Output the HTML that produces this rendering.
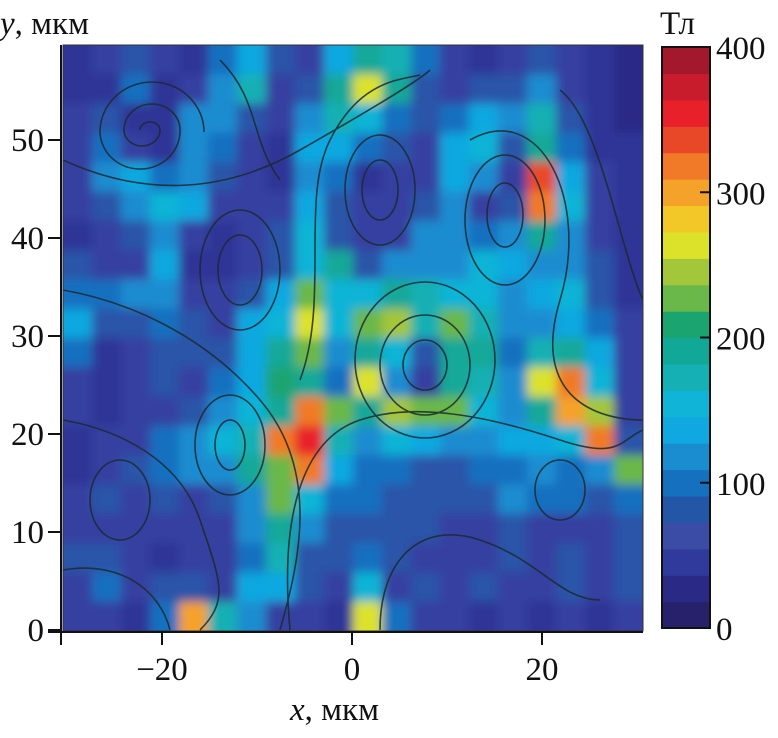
<!DOCTYPE html>
<html><head><meta charset="utf-8"><style>
body{margin:0;background:#fff;}
svg text{font-family:"Liberation Serif",serif;fill:#111;}
</style></head><body>
<svg id="c" width="778" height="733" viewBox="0 0 778 733" xmlns="http://www.w3.org/2000/svg">
<defs>
<filter id="bl" x="-0.1" y="-0.1" width="1.2" height="1.2"><feGaussianBlur stdDeviation="5"/></filter>
<clipPath id="pc"><rect x="63" y="45" width="580" height="586"/></clipPath>
</defs>
<g clip-path="url(#pc)">
<rect x="40" y="20" width="630" height="640" fill="#2f3596"/>
<g id="heat" filter="url(#bl)"></g></g>
<g id="stream" fill="none" stroke="#1c2a30" stroke-width="1.6" opacity="0.85" clip-path="url(#pc)">
<path d="M150 130 m-10 0 a10 8 0 1 1 20 0 a18 16 0 1 1 -36 0 a28 26 0 1 1 56 0 a40 38 0 1 1 -80 2 a52 50 0 1 1 104 0"/>
<ellipse cx="240" cy="270" rx="22" ry="35"/><ellipse cx="240" cy="270" rx="40" ry="60"/>
<ellipse cx="380" cy="190" rx="18" ry="30"/><ellipse cx="380" cy="190" rx="35" ry="55"/>
<ellipse cx="425" cy="365" rx="22" ry="25"/><ellipse cx="425" cy="365" rx="45" ry="50"/><ellipse cx="425" cy="360" rx="70" ry="78"/>
<ellipse cx="505" cy="215" rx="18" ry="32"/><ellipse cx="505" cy="220" rx="40" ry="65"/>
<ellipse cx="230" cy="445" rx="15" ry="25"/><ellipse cx="230" cy="445" rx="35" ry="50"/>
<ellipse cx="120" cy="500" rx="30" ry="40"/><ellipse cx="560" cy="490" rx="25" ry="30"/>
<path d="M63 160 C150 200 230 190 300 150 S420 80 430 70"/>
<path d="M63 290 C120 300 200 330 260 400 S300 560 280 630"/>
<path d="M290 630 C280 520 300 440 360 420 S500 420 560 440 S620 440 643 430"/>
<path d="M300 380 C330 300 300 200 330 140 S400 80 420 75"/>
<path d="M470 140 C540 100 590 200 560 300 S600 420 643 420"/>
<path d="M63 420 C120 430 180 460 200 520 S230 600 200 630"/>
<path d="M380 630 C380 560 420 520 480 540 S560 600 600 600"/>
<path d="M63 570 C120 560 160 590 170 630"/>
<path d="M560 90 C600 120 620 250 643 300"/>
<path d="M220 60 C260 100 250 140 280 180"/>
</g>
<rect x="63" y="45" width="580" height="586" fill="none" stroke="#333" stroke-width="1"/>
<g id="axes"></g>
<g id="cbar"></g>
<text x="0" y="34" font-size="33"><tspan font-style="italic">y</tspan>, мкм</text>
<text x="290" y="720" font-size="33"><tspan font-style="italic">x</tspan>, мкм</text>
<text x="660" y="34" font-size="33">Тл</text>
</svg>
<script>
const xTicks=[-20,0,20];
const yTicks=[0,10,20,30,40,50];
const cTicks=[0,100,200,300,400];
const levelColors=["#26216a","#2a2a86","#303a9c","#3a4ca6","#2456a8","#1670c0","#1a8cd0","#10a8e0","#0fb4d6","#14b0b4","#12a898","#1aa470","#6ab84a","#a4c63a","#dce22a","#f2c828","#f4a22a","#f07a28","#e84828","#e8202a","#c81c2c","#a4182e"];
const grid=[
[60,80,100,80,70,120,150,110,90,150,200,180,120,80,70,90,100,80,60,50],
[70,60,120,60,90,140,180,90,100,200,260,200,110,90,100,110,130,90,60,50],
[80,100,60,70,130,140,100,80,140,180,160,120,100,120,150,130,180,100,60,50],
[80,120,80,60,130,120,80,70,150,150,120,100,80,150,160,100,200,120,70,60],
[90,130,150,120,140,100,80,70,140,120,60,80,80,150,130,90,320,150,80,60],
[80,100,130,160,150,80,90,80,150,100,80,90,100,140,80,100,300,160,80,70],
[70,90,110,140,80,60,80,100,160,110,80,90,140,140,120,140,200,140,90,70],
[100,80,90,150,70,60,80,110,160,200,110,140,130,130,160,150,140,130,100,70],
[120,120,130,130,90,80,100,150,230,170,160,200,180,160,170,130,150,160,110,70],
[150,100,110,120,100,90,150,160,250,160,220,240,180,220,180,130,130,150,120,80],
[120,70,90,100,100,110,150,200,220,140,200,160,100,200,190,120,180,200,150,80],
[90,70,80,100,90,120,150,210,200,120,250,140,90,200,180,130,250,300,160,80],
[80,70,80,90,110,140,160,200,300,230,200,240,220,220,160,130,200,290,240,90],
[70,80,90,120,130,160,180,300,350,180,140,160,150,130,140,150,150,170,310,100],
[70,90,100,120,130,140,200,220,300,150,120,120,100,110,120,120,140,120,140,230],
[80,100,90,110,90,100,140,220,160,120,120,100,110,100,100,130,120,120,100,120],
[80,90,80,80,80,90,130,200,140,110,100,110,100,80,90,100,80,80,90,100],
[100,110,80,70,80,80,120,180,110,100,120,100,90,80,90,100,90,100,90,100],
[80,120,80,100,110,90,150,150,100,80,160,90,100,90,100,80,90,100,80,100],
[80,90,70,120,290,180,130,90,80,70,260,120,80,90,70,80,60,80,70,90]];
const mapStops=[40,60,80,100,115,130,145,160,175,190,205,220,235,250,265,280,300,320,340,360,380];
const mapColors=["#23206a","#2a2a86","#2f3596","#3540a0","#2a55a8","#1670c0","#1a8cd0","#10a8e0","#0fb4d6","#14b0b4","#12a898","#1aa470","#6ab84a","#a4c63a","#dce22a","#f2c828","#f4a22a","#f07a28","#e84828","#e8202a","#c81c2c","#a4182e"];
const NS="http://www.w3.org/2000/svg";
const X0=63,X1=643,Y0=45,Y1=631;
const xs=v=>352+(v)*9.5;
const ys=v=>630-v*9.8;
const cs=v=>628-v*(581/400);
function col(v){let i=0;while(i<mapStops.length&&v>=mapStops[i])i++;return mapColors[i];}
function mk(t,a,p){const e=document.createElementNS(NS,t);for(const k in a)e.setAttribute(k,a[k]);p.appendChild(e);return e;}
const heat=document.getElementById('heat');
const rows=grid.length,cols=grid[0].length,cw=(X1-X0)/cols,ch=(Y1-Y0)/rows;
grid.forEach((r,i)=>r.forEach((v,j)=>{
 const x=X0+j*cw-(j===0?15:0), y=Y0+i*ch-(i===0?15:0);
 const w=cw+0.6+(j===0?15:0)+(j===cols-1?15:0), h=ch+0.6+(i===0?15:0)+(i===rows-1?15:0);
 const e=mk('rect',{x:x,y:y,width:w,height:h,fill:col(v)},heat);
 
 
}));
const ax=document.getElementById('axes');
mk('line',{x1:48,y1:632,x2:643,y2:632,stroke:'#111','stroke-width':2},ax);
mk('line',{x1:61,y1:45,x2:61,y2:645,stroke:'#111','stroke-width':2},ax);
xTicks.forEach(v=>{
 mk('line',{x1:xs(v),y1:632,x2:xs(v),y2:645,stroke:'#111','stroke-width':2},ax);
 const t=mk('text',{x:xs(v),y:680,'font-size':33,'text-anchor':'middle'},ax);t.textContent=v<0?'\u2212'+(-v):v;
 
 
});
yTicks.forEach(v=>{
 mk('line',{x1:48,y1:ys(v),x2:61,y2:ys(v),stroke:'#111','stroke-width':2},ax);
 const t=mk('text',{x:44,y:ys(v)+11,'font-size':33,'text-anchor':'end'},ax);t.textContent=v;
 
 
});
const cb=document.getElementById('cbar');
const n=levelColors.length;
levelColors.forEach((c,i)=>{
 const e=mk('rect',{x:662,y:cs((i+1)*400/n),width:48,height:581/n+0.6,fill:c},cb);
 
 
});
mk('rect',{x:662,y:47,width:48,height:581,fill:'none',stroke:'#111','stroke-width':2},cb);
cTicks.forEach(v=>{
 mk('line',{x1:700,y1:cs(v),x2:710,y2:cs(v),stroke:'#111','stroke-width':2},cb);
 const t=mk('text',{x:716,y:cs(v)+12,'font-size':33},cb);t.textContent=v;
 
 
});
</script>
</body></html>
